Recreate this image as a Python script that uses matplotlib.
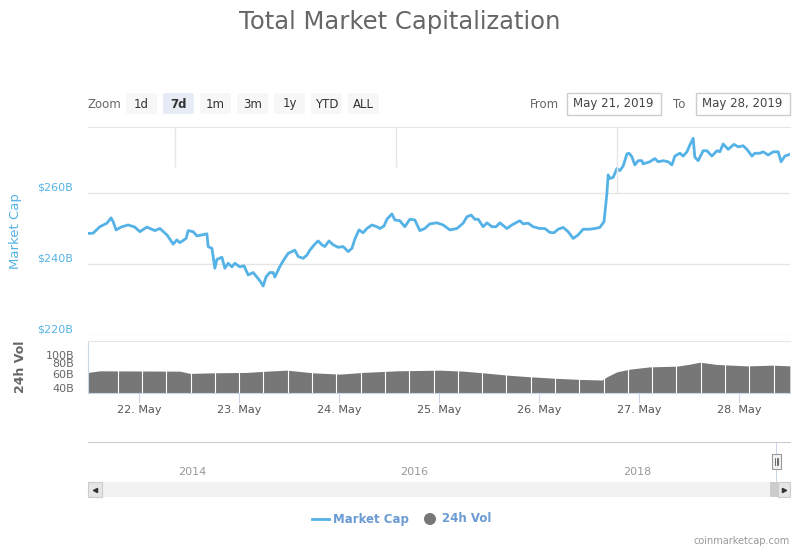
import numpy as np
import matplotlib.pyplot as plt
from matplotlib.patches import Rectangle, FancyBboxPatch, Circle

# market cap: hours since 21 May 2019 00:00, value in $B
cap_hours = [11.8, 13.0, 14.6, 16.3, 17.3, 17.8, 18.5, 19.9, 21.4, 23.0,
             24.2, 25.9, 27.8, 29.0, 30.7, 32.2, 33.1, 33.8, 35.3, 35.8,
             37.0, 37.9, 39.1, 40.3, 40.6, 41.5, 42.2, 42.7, 43.9, 44.6,
             45.4, 46.3, 47.0, 48.2, 49.2, 50.2, 51.4, 52.3, 53.0, 53.8,
             54.5, 55.4, 56.2, 56.6, 57.6, 58.6, 59.8, 60.7, 61.4, 62.2,
             63.4, 64.3, 65.0, 66.2, 67.0, 67.9, 68.6, 69.6, 70.6, 71.8,
             73.0, 74.2, 75.1, 75.8, 76.8, 77.8, 78.7, 79.9, 81.1, 81.8,
             82.8, 83.5, 84.7, 85.4, 86.6, 87.8, 89.0, 90.2, 91.4, 92.6,
             93.8, 95.5, 97.0, 98.6, 100.3, 101.8, 102.7, 103.7, 104.6, 105.4,
             106.6, 107.5, 108.7, 109.7, 110.6, 112.3, 113.5, 115.4, 116.2, 117.4,
             118.6, 120.2, 121.4, 122.6, 123.6, 124.6, 125.8, 127.0, 128.2, 129.4,
             130.6, 132.2, 133.4, 134.6, 135.6, 136.3, 136.6, 137.0, 137.8, 138.7,
             139.4, 140.2, 141.1, 141.6, 142.3, 143.0, 143.8, 144.7, 145.0, 146.6,
             147.8, 148.6, 149.8, 151.0, 151.9, 152.6, 153.8, 154.6, 155.5, 156.2,
             157.0, 157.4, 158.2, 159.4, 160.3, 161.5, 162.7, 163.4, 164.2, 165.4,
             166.8, 167.8, 169.0, 169.9, 171.1, 171.8, 173.0, 173.8, 175.0, 176.2,
             177.4, 178.1, 179.0, 180.2]
cap_values = [248.6, 248.7, 250.5, 251.5, 253.0, 251.9, 249.6, 250.5, 251.0, 250.4,
              249.1, 250.4, 249.4, 250.0, 248.2, 245.6, 246.8, 246.0, 247.2, 249.4,
              249.1, 247.9, 248.2, 248.5, 244.9, 244.4, 238.8, 241.3, 241.9, 238.8,
              240.2, 239.2, 240.2, 239.2, 239.5, 236.9, 237.6, 236.3, 235.3, 233.8,
              236.4, 237.6, 237.6, 236.3, 238.8, 240.9, 243.0, 243.5, 243.9, 242.1,
              241.6, 242.5, 243.9, 245.6, 246.5, 245.4, 244.9, 246.5, 245.4, 244.7,
              244.9, 243.5, 244.4, 247.0, 249.6, 248.8, 250.0, 251.0, 250.5, 250.0,
              250.7, 252.6, 254.1, 252.4, 252.2, 250.5, 252.6, 252.4, 249.4, 250.0,
              251.3, 251.6, 251.0, 249.6, 250.0, 251.5, 253.3, 253.8, 252.6, 252.6,
              250.5, 251.6, 250.5, 250.5, 251.6, 250.0, 251.0, 252.2, 251.3, 251.5,
              250.5, 250.0, 250.0, 248.9, 248.8, 249.8, 250.3, 249.1, 247.2, 248.2,
              249.8, 249.8, 250.0, 250.3, 251.9, 259.9, 265.1, 264.1, 264.4, 266.9,
              266.3, 267.6, 271.0, 271.2, 270.2, 267.9, 269.1, 269.1, 268.2, 268.8,
              269.7, 268.8, 269.1, 268.8, 267.9, 270.4, 271.2, 270.4, 271.6, 273.5,
              275.4, 270.1, 269.1, 271.9, 271.9, 270.4, 271.9, 271.6, 273.8, 272.3,
              273.7, 273.0, 273.3, 272.3, 270.4, 271.2, 271.2, 271.6, 270.7, 271.6,
              271.6, 268.8, 270.4, 270.9]

# 24h volume, $B
vol_hours = [11.8, 14.6, 33.8, 36.2, 41.8, 49.9, 54.7, 59.5, 65.8, 72.2,
             77.8, 85.9, 96.2, 101.8, 106.6, 112.3, 117.8, 124.3, 129.8, 135.1,
             136.3, 138.7, 141.8, 146.6, 153.1, 156.2, 158.6, 162.7, 169.9, 176.2,
             180.2]
vol_values = [61.9, 64.7, 64.1, 60.2, 61.2, 61.9, 64.1, 65.9, 61.2, 59.0,
              61.9, 64.7, 65.9, 64.1, 61.2, 57.4, 54.8, 52.4, 50.9, 50.0,
              54.8, 62.9, 67.8, 72.3, 73.7, 77.9, 82.4, 77.3, 74.3, 75.8,
              74.3]

day_ticks = [24, 48, 72, 96, 120, 144, 168]
day_labels = ['22. May', '23. May', '24. May', '25. May', '26. May', '27. May', '28. May']
cap_ticks = [220, 240, 260]
cap_labels = ['$220B', '$240B', '$260B']
vol_ticks = [40, 60, 80, 100]
vol_labels = ['40B', '60B', '80B', '100B']
nav_years = [2014, 2016, 2018]
zoom_buttons = ['1d', '7d', '1m', '3m', '1y', 'YTD', 'ALL']
selected_button = '7d'
date_from = 'May 21, 2019'
date_to = 'May 28, 2019'

blue = '#55b2e6'
legend_blue = '#6a9bd3'
grid = '#e6e6e6'
axis_blue = '#ccd6eb'

W, H = 800, 550
fig = plt.figure(figsize=(8, 5.5), dpi=100)


def fax(x0, y0, x1, y1):
    # axes from pixel box (top-left origin)
    return fig.add_axes([x0 / W, 1 - y1 / H, (x1 - x0) / W, (y1 - y0) / H])


# main market cap panel
ax = fax(88, 127, 790, 335)
ax.plot(cap_hours, cap_values, color=blue, lw=2)
ax.set_xlim(11.76, 180.24)
ax.set_ylim(220, 278.59)
ax.set_yticks(cap_ticks, cap_labels)
for lbl in ax.get_yticklabels():
    lbl.set_va('bottom')
ax.tick_params(axis='y', length=0, pad=11, labelsize=8, labelcolor=blue)
ax.set_xticks([])
ax.grid(axis='y', color=grid, lw=1)
ax.vlines([32.6, 85.7], 267.3, 278.59, color=grid, lw=1)
ax.vlines([138.7], 260, 278.59, color=grid, lw=1)
for s in ['left', 'right', 'bottom']:
    ax.spines[s].set_visible(False)
ax.spines['top'].set_color(grid)
ax.set_ylabel('Market Cap', color=blue, fontsize=9.5)
ax.yaxis.set_label_coords(-0.094, 0.5)

# volume panel
av = fax(88, 341, 790, 393)
av.fill_between(vol_hours, vol_values, 30, color='#777777', lw=0)
av.vlines(np.arange(18.9, 181, 5.83), 30, 200, color='white', lw=0.8)
av.set_yscale('log')
av.set_ylim(34.8, 149)
av.set_xlim(11.76, 180.24)
av.set_yticks(vol_ticks, vol_labels)
av.yaxis.set_minor_locator(plt.NullLocator())
av.tick_params(axis='y', length=0, pad=10, labelsize=8, labelcolor='#666666')
av.set_xticks(day_ticks, day_labels)
av.tick_params(axis='x', length=7, color=axis_blue, labelsize=8, labelcolor='#555555', pad=1.5)
av.spines['right'].set_visible(False)
av.spines['top'].set_color(grid)
av.spines['left'].set_color(axis_blue)
av.spines['bottom'].set_color(axis_blue)
av.set_ylabel('24h Vol', color='#666666', fontsize=9, fontweight='bold')
av.yaxis.set_label_coords(-0.087, 0.5)

# navigator
an = fax(88, 442, 790, 482)
an.set_xlim(2013.065, 2019.375)
an.set_ylim(0, 1)
an.set_xticks(nav_years, [str(y) for y in nav_years])
an.tick_params(axis='x', length=0, pad=-11, labelsize=8, labelcolor='#999999')
an.set_yticks([])
for s in ['left', 'right', 'bottom']:
    an.spines[s].set_visible(False)
an.spines['top'].set_color('#cccccc')
an.axvspan(2019.245, 2019.262, color=axis_blue, lw=0)

# UI overlay in pixel coordinates
ui = fig.add_axes([0, 0, 1, 1], zorder=5)
ui.set_xlim(0, W)
ui.set_ylim(H, 0)
ui.axis('off')
ui.patch.set_alpha(0)

ui.text(400, 22, 'Total Market Capitalization', ha='center', va='center',
        fontsize=17.5, color='#666666')

ui.text(88, 104, 'Zoom', ha='left', va='center', fontsize=8.5, color='#666666')
for i, b in enumerate(zoom_buttons):
    x0 = 126 + i * 37
    sel = b == selected_button
    ui.add_patch(FancyBboxPatch((x0, 93), 31, 21, boxstyle='round,pad=0,rounding_size=2',
                                fc='#e6ebf5' if sel else '#f7f7f7', ec='none'))
    ui.text(x0 + 15.5, 104, b, ha='center', va='center', fontsize=8.5, color='#333333',
            fontweight='bold' if sel else 'normal')

ui.text(530, 104, 'From', ha='left', va='center', fontsize=8.5, color='#666666')
ui.add_patch(Rectangle((567, 93), 94, 22, fc='white', ec='#cccccc', lw=1))
ui.text(573, 104, date_from, ha='left', va='center', fontsize=8.5, color='#444444')
ui.text(673, 104, 'To', ha='left', va='center', fontsize=8.5, color='#666666')
ui.add_patch(Rectangle((696, 93), 94, 22, fc='white', ec='#cccccc', lw=1))
ui.text(702, 104, date_to, ha='left', va='center', fontsize=8.5, color='#444444')

# navigator handle
ui.add_patch(Rectangle((772, 454), 9, 15, fc='#f2f2f2', ec='#999999', lw=0.8))
for dx in (775, 776.5, 778):
    ui.plot([dx, dx], [458, 465], color='#333333', lw=0.5)

# scrollbar
ui.add_patch(Rectangle((88, 482), 702, 15, fc='#f2f2f2', ec='none'))
ui.add_patch(Rectangle((88, 482), 14, 15, fc='#e6e6e6', ec='#cccccc', lw=0.8))
ui.add_patch(Rectangle((770, 482), 8, 15, fc='#cccccc', ec='none'))
ui.add_patch(Rectangle((778, 482), 12, 15, fc='#e6e6e6', ec='#cccccc', lw=0.8))
ui.plot([95], [489.5], marker='<', ms=3, color='#333333')
ui.plot([784], [489.5], marker='>', ms=3, color='#333333')

# legend
ui.plot([312, 329], [519, 519], color=blue, lw=2)
ui.text(333, 519, 'Market Cap', ha='left', va='center', fontsize=8.5, fontweight='bold',
        color=legend_blue)
ui.add_patch(Circle((430, 519), 6, fc='#777777', ec='none'))
ui.text(442, 519, '24h Vol', ha='left', va='center', fontsize=8.5, fontweight='bold',
        color=legend_blue)

ui.text(790, 541, 'coinmarketcap.com', ha='right', va='center', fontsize=7, color='#999999')

fig.savefig('out.png', dpi=100)
